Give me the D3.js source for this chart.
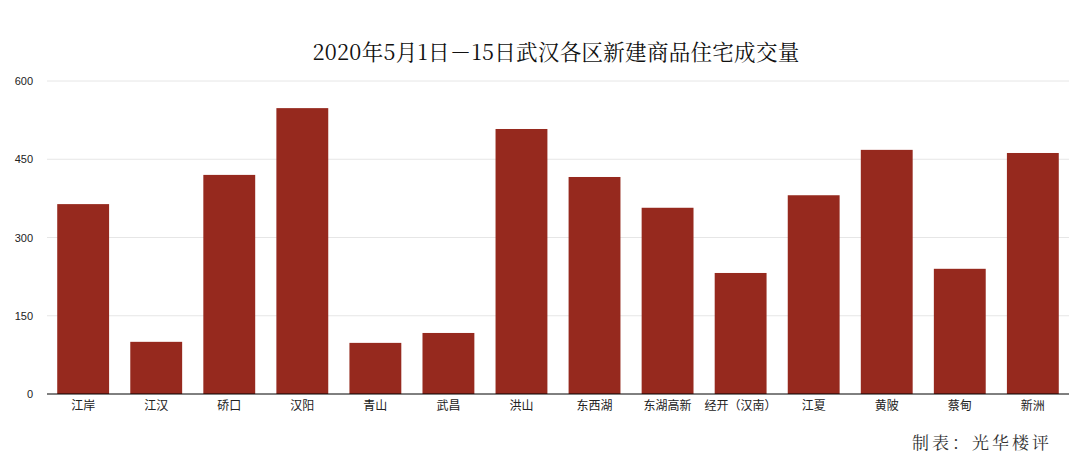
<!DOCTYPE html>
<html><head><meta charset="utf-8">
<script src="https://cdn.jsdelivr.net/npm/d3@7"></script>
<style>body{margin:0;background:#fff}</style>
</head><body>
<script>
const districts = ["江岸","江汉","硚口","汉阳","青山","武昌","洪山","东西湖","东湖高新","经开（汉南）","江夏","黄陂","蔡甸","新洲"];
const volumes = [364, 100, 420, 548, 98, 117, 508, 416, 357, 232, 381, 468, 240, 462];
const yTicks = [0, 150, 300, 450, 600];

const width = 1079, height = 472;
const margin = {left: 47, right: 10, top: 81, bottom: 78};

const svg = d3.select("body").append("svg").attr("width", width).attr("height", height);

const x = d3.scaleBand().domain(districts).range([margin.left, width - margin.right]).paddingInner(0.29).paddingOuter(0.14);
const y = d3.scaleLinear().domain([0, 600]).range([height - margin.bottom, margin.top]);

// grid lines
svg.append("g").selectAll("line").data(yTicks.slice(1)).enter().append("line")
  .attr("x1", margin.left).attr("x2", width - margin.right)
  .attr("y1", d => y(d)).attr("y2", d => y(d))
  .attr("stroke", "#e6e6e6");

svg.append("g").selectAll("text").data(yTicks).enter().append("text")
  .attr("x", 33).attr("y", d => y(d) + 4).attr("text-anchor", "end")
  .style("font", "11px 'Liberation Sans', Arial, sans-serif").attr("fill", "#222")
  .text(d => d);

svg.append("g").selectAll("rect").data(volumes).enter().append("rect")
  .attr("x", (d, i) => x(districts[i])).attr("width", x.bandwidth())
  .attr("y", d => y(d)).attr("height", d => y(0) - y(d))
  .attr("fill", "#96291e");

svg.append("line").attr("x1", margin.left).attr("x2", width - margin.right)
  .attr("y1", y(0)).attr("y2", y(0)).attr("stroke", "#000");

svg.append("g").selectAll("text").data(districts).enter().append("text")
  .attr("x", d => x(d) + x.bandwidth() / 2).attr("y", y(0) + 16).attr("text-anchor", "middle")
  .style("font", "12px 'Noto Sans CJK SC', sans-serif").attr("fill", "#222")
  .text(d => d);

svg.append("text").attr("x", 556).attr("y", 60).attr("text-anchor", "middle")
  .style("font", "21.5px 'Noto Serif CJK SC', 'Liberation Serif', serif").attr("fill", "#111")
  .attr("letter-spacing", "0.3px")
  .text("2020年5月1日－15日武汉各区新建商品住宅成交量");

svg.append("text").attr("x", 1052).attr("y", 449).attr("text-anchor", "end")
  .style("font", "17px 'Noto Serif CJK SC', 'Liberation Serif', serif").attr("fill", "#333")
  .attr("letter-spacing", "3px")
  .text("制表：光华楼评");
</script>
</body></html>
